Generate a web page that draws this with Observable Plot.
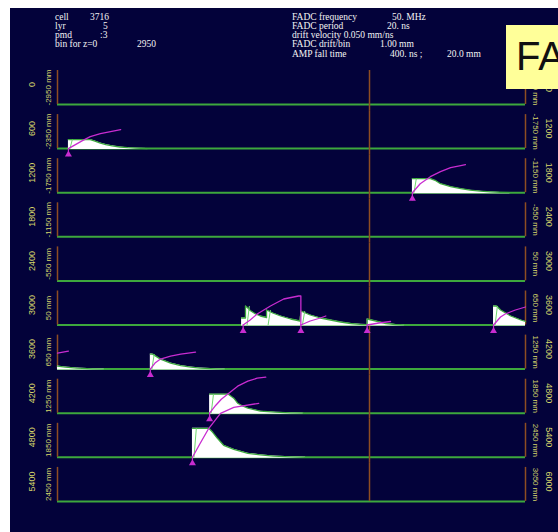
<!DOCTYPE html>
<html><head><meta charset="utf-8">
<script src="https://cdn.jsdelivr.net/npm/d3@7"></script>
<script src="https://cdn.jsdelivr.net/npm/@observablehq/plot@0.6"></script>
<style>
html,body{margin:0;padding:0;background:#fff;width:558px;height:532px;overflow:hidden}
#panel{position:absolute;left:10px;top:8px;width:548px;height:524px;background:#03023a;overflow:hidden}
#hdr span{position:absolute;white-space:pre;line-height:9px;font-family:"Liberation Serif",serif;font-size:9.5px;color:#f4f4f4}
#chart{position:absolute;left:0;top:52px}
#fa{position:absolute;left:496px;top:17px;width:52px;height:64px;background:#ffff99;overflow:hidden}
#fa span{position:absolute;left:10px;top:11px;font-family:"Liberation Sans",sans-serif;font-size:40px;line-height:40px;color:#111;white-space:pre}
</style></head>
<body>
<div id="panel">
  <div id="hdr"></div>
  <div id="chart"></div>
  <div id="fa"><span>FADC</span></div>
</div>
<script>
// ---- data ----
const rows = d3.range(10);
const rowStartBin = [0, 600, 1200, 1800, 2400, 3000, 3600, 4200, 4800, 5400];
const rowEndBin = [600, 1200, 1800, 2400, 3000, 3600, 4200, 4800, 5400, 6000];
const rowStartZ = ["-2950 mm","-2350 mm","-1750 mm","-1150 mm","-550 mm","50 mm","650 mm","1250 mm","1850 mm","2450 mm"];
const rowEndZ = ["-2350 mm","-1750 mm","-1150 mm","-550 mm","50 mm","650 mm","1250 mm","1850 mm","2450 mm","3050 mm"];
const markerBin = 400;

// FADC waveforms: [bin within row, amplitude]
const wave1 = [[14,0],[14,9],[42,9],[48,7.5],[55,5.5],[62,4],[70,2.8],[80,1.6],[90,0.9],[100,0.4],[115,0]];
const wave2 = [[455,0],[455,14],[478,14],[485,12],[491,9],[504,6],[517,4],[529,2.5],[542,1.5],[555,0.8],[568,0.3],[580,0]];
const wave5a = [[236,0],[236,7],[241,7],[241,19],[244,17],[247,14.5],[254,11],[260,9],[268,7.5],[268,15],[276,12],[286,9],[299,6],[311,4],[312,14],[318,12],[324,10],[337,7],[350,5],[363,3],[376,1.5],[388,0.7],[397,0.4],[397,6],[408,4],[421,1.5],[433,0.5],[445,0]];
const wave5b = [[559,0],[559,19],[563,19],[568,15],[581,9],[594,5],[600,3.5]];
const wave6a = [[0,3],[10,2],[25,1],[45,0.3],[60,0]];
const wave6b = [[119,0],[119,15],[122,15],[132,10],[145,6],[158,3.5],[171,2],[183,1],[203,0.3],[215,0]];
const wave7 = [[195,0],[195,19],[219,19],[226,15],[231,10],[238,7],[244,5],[260,2],[279,1],[299,0.4],[315,0]];
const wave8 = [[173,0],[173,29],[194,29],[199,25],[205,19],[213,12],[226,8],[244,4],[260,2.5],[277,1.2],[299,0.5],[318,0]];
const waveRows = [1, 2, 5, 5, 6, 6, 7, 8];

// integrated charge curves
const int1 = [[14,0],[23,4],[32,8],[42,12],[55,15],[68,17],[81,19]];
const int2 = [[455,0],[465,9],[478,16],[491,21],[504,25],[517,27],[523,28]];
const int5a = [[238,0],[247,5],[256,11],[273,19],[290,26],[309,29],[312,29],[312,0]];
const int5b = [[312,0],[324,4],[337,7],[344,9]];
const int5c = [[397,0],[412,2],[427,3.5]];
const int5d = [[559,0],[568,8],[574,11],[587,15],[600,18]];
const int6a = [[0,16],[14,18]];
const int6b = [[119,0],[125,6],[132,10],[145,13],[158,15],[177,17]];
const int7 = [[195,0],[203,8],[210,14],[218,19],[231,27],[244,32],[256,35],[267,36]];
const int8 = [[173,0],[183,14],[194,29],[209,44],[226,50],[258,54]];
const intRows = [1, 2, 5, 5, 5, 5, 6, 6, 7, 8];

// hit markers (row, bin) and leading edges (amplitude)
const hitRow = [1, 2, 5, 5, 5, 5, 6, 7, 8];
const hitBin = [14, 455, 238, 312, 397, 559, 119, 195, 173];
const edgeRow = [1, 2, 5, 5, 5, 5, 6, 7, 8];
const edgeBin = [14, 455, 241, 268, 312, 559, 119, 195, 173];
const edgeAmp = [9, 14, 19, 15, 14, 19, 15, 19, 29];

// ---- header ----
const hdrText = [
  ["cell", 45, 5], ["3716", 80, 5],
  ["lyr", 45, 14], ["5", 93, 14],
  ["pmd", 45, 23], [":3", 90, 23],
  ["bin for z=0", 45, 32], ["2950", 127, 32],
  ["FADC frequency", 282, 5], ["50. MHz", 382, 5],
  ["FADC period", 282, 14], ["20. ns", 377, 14],
  ["drift velocity 0.050 mm/ns", 282, 23],
  ["FADC drift/bin", 282, 32], ["1.00 mm", 370, 32],
  ["AMP fall time", 282, 42], ["400. ns ;", 380, 42], ["20.0 mm", 437, 42]
];
const hdr = document.getElementById("hdr");
for (const [t, x, y] of hdrText) {
  const s = document.createElement("span");
  s.textContent = t; s.style.left = x + "px"; s.style.top = y + "px";
  hdr.appendChild(s);
}

// ---- tables ----
const waves = [wave1, wave2, wave5a, wave5b, wave6a, wave6b, wave7, wave8];
const waveTable = [], waveOutline = [];
waves.forEach((w, k) => w.forEach(([b, a], j) => {
  const d = {row: waveRows[k], id: k, b, a};
  waveTable.push(d);
  if (j > 0 || w[0][1] > 0) waveOutline.push(d);
}));
const ints = [int1, int2, int5a, int5b, int5c, int5d, int6a, int6b, int7, int8];
const intTable = [];
ints.forEach((w, k) => w.forEach(([b, a]) => intTable.push({row: intRows[k], id: k, b, a})));
const hits = hitRow.map((r, i) => ({row: r, b: hitBin[i]}));
const edges = edgeRow.map((r, i) => ({row: r, b: edgeBin[i], h: edgeAmp[i]}));

const green = "#3da83d", brown = "#8e4d22", magenta = "#c82cd0", yellow = "#d6d66a";
const lbl = {fill: yellow, fontFamily: "Liberation Sans", textAnchor: "middle"};

const chart = Plot.plot({
  width: 548, height: 472,
  marginLeft: 47, marginRight: 33, marginTop: 6, marginBottom: 25,
  style: {background: "transparent", overflow: "visible"},
  x: {domain: [0, 600], axis: null},
  y: {domain: [-6.1, 38], axis: null},
  fy: {domain: rows, padding: 0, round: false, axis: null},
  marks: [
    Plot.ruleY(rows, {fy: d => d, y: 0, x1: 0, x2: 600, stroke: green, strokeWidth: 2}),
    Plot.ruleX(rows, {fy: d => d, x: 0, y1: 0, y2: 34, stroke: brown, strokeWidth: 1.5}),
    Plot.ruleX(rows, {fy: d => d, x: 600, y1: 0, y2: 34, stroke: brown, strokeWidth: 1.5}),
    Plot.ruleX(rows, {fy: d => d, x: markerBin, y1: d => d === 9 ? 0 : -6.1, y2: d => d === 0 ? 34 : 38, stroke: brown, strokeWidth: 1.5}),
    Plot.areaY(waveTable, {fy: "row", x: "b", y1: -1, y2: "a", z: "id", fill: "white", curve: "linear"}),
    Plot.line(waveOutline, {fy: "row", x: "b", y: "a", z: "id", stroke: green, strokeWidth: 1.3}),
    Plot.link(edges, {fy: "row", x1: d => d.b + 2, y1: 0, x2: d => d.b + 5, y2: d => d.h, stroke: "#6fd86f", strokeWidth: 1}),
    Plot.line(intTable, {fy: "row", x: "b", y: "a", z: "id", stroke: magenta, strokeWidth: 1.3}),
    Plot.ruleX(hits, {fy: "row", x: "b", y1: -8, y2: 0, stroke: magenta, strokeWidth: 1.2}),
    Plot.dot(hits, {fy: "row", x: "b", y: -6, symbol: "triangle", r: 2.6, fill: magenta}),
    Plot.text(rows, {...lbl, fy: d => d, y: 20, frameAnchor: "left", dx: -25, text: d => String(rowStartBin[d]), rotate: -90, fontSize: 9}),
    Plot.text(rows, {...lbl, fy: d => d, y: 17, frameAnchor: "left", dx: -9, text: d => rowStartZ[d], rotate: -90, fontSize: 8}),
    Plot.text(rows, {...lbl, fy: d => d, y: 17, frameAnchor: "right", dx: 10, text: d => rowEndZ[d], rotate: 90, fontSize: 8}),
    Plot.text(rows, {...lbl, fy: d => d, y: 20, frameAnchor: "right", dx: 23, text: d => String(rowEndBin[d]), rotate: 90, fontSize: 9})
  ]
});
document.getElementById("chart").appendChild(chart);
</script>
</body></html>
